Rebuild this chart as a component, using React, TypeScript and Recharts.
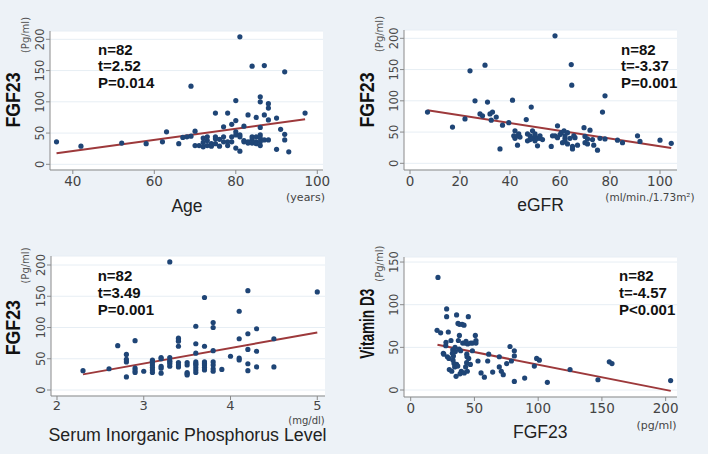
import React from "react";
import { CartesianGrid, ReferenceLine, Scatter, ScatterChart, XAxis, YAxis } from "recharts";

// FGF23 (pg/ml) against age (years)
const agePoints = [
  [36, 36], [42, 29], [52, 34], [58, 33], [62, 36], [63, 52], [66, 33], [67, 43], [68, 44],
  [69, 125], [69, 45], [70, 53], [70, 30], [71, 30], [72, 42], [72, 35], [72, 28],
  [73, 44], [73, 38], [73, 30], [74, 29], [74, 33], [75, 82], [75, 44], [75, 41], [75, 33],
  [76, 29], [76, 40], [77, 60], [77, 44], [77, 36], [78, 82], [78, 36], [78, 30],
  [79, 64], [79, 44], [79, 36], [80, 102], [80, 70], [80, 52], [80, 47], [80, 26],
  [81, 204], [81, 47], [81, 44], [81, 21], [82, 61], [82, 36], [82, 38], [83, 79], [83, 36], [83, 34],
  [84, 157], [84, 44], [84, 40], [84, 34], [85, 75], [85, 44], [85, 36], [85, 33],
  [86, 108], [86, 100], [86, 59], [86, 47], [86, 42], [86, 36], [86, 30], [87, 158], [87, 79], [87, 39],
  [88, 97], [88, 90], [88, 71], [88, 39], [90, 74], [90, 24], [91, 56], [92, 148], [92, 48], [92, 39],
  [93, 20], [97, 82]
];
const ageFit = [[36, 17.6], [97, 72]];

// FGF23 against eGFR
const egfrPoints = [
  [7, 82], [17, 58], [22, 71], [24, 148], [26, 100], [28, 79], [29, 76], [30, 157], [31, 98], [32, 79],
  [33, 82], [32.5, 69], [34.5, 74], [36, 23], [37, 61], [39.5, 65], [41, 101], [42, 52], [41.5, 44], [42, 40],
  [43, 44], [43, 29], [43.5, 47], [44, 42], [46.5, 70], [47, 47], [47, 36], [48, 44], [48, 38], [48.5, 90],
  [49, 52], [49, 40], [50, 47], [50, 44], [50, 36], [51, 40], [51, 28], [52, 40], [52, 44], [53, 38],
  [56.5, 27], [57, 44], [58, 204], [58, 44], [59, 41], [59, 60], [60, 46], [60.5, 49], [61, 33], [61.6, 52],
  [62, 44], [62, 40], [62, 36], [63, 49], [63, 31], [64, 40], [64.5, 158], [64.7, 125], [65, 27], [65, 23],
  [65.5, 44], [66, 41], [67, 29], [69.6, 57], [70, 33], [70, 43], [71, 39], [71, 31], [72, 53], [73, 38],
  [73.5, 29], [75, 21], [76, 40], [77, 82], [78, 39], [78, 108], [83, 37], [85, 33], [91, 44], [92, 35],
  [100, 37], [104.5, 32]
];
const egfrFit = [[7, 85], [104.5, 24.5]];

// FGF23 against serum inorganic phosphorus (mg/dl)
const phosPoints = [
  [2.3, 31], [2.6, 34], [2.7, 71], [2.8, 57], [2.8, 49], [2.8, 45], [2.8, 21], [2.9, 79], [2.9, 35], [2.9, 31],
  [2.9, 28], [3.0, 30], [3.1, 48], [3.1, 46], [3.1, 44], [3.1, 40], [3.1, 36], [3.1, 32], [3.1, 28],
  [3.2, 52], [3.2, 50], [3.2, 38], [3.2, 35], [3.2, 27], [3.3, 205], [3.3, 52], [3.3, 47], [3.3, 45], [3.3, 42],
  [3.3, 38], [3.4, 83], [3.4, 80], [3.4, 78], [3.4, 70], [3.4, 44], [3.4, 40], [3.4, 37], [3.5, 44], [3.5, 40],
  [3.5, 28], [3.5, 26], [3.5, 24], [3.6, 102], [3.6, 74], [3.6, 59], [3.6, 45], [3.6, 42], [3.6, 40], [3.6, 36],
  [3.6, 32], [3.6, 28], [3.7, 148], [3.7, 70], [3.7, 45], [3.7, 42], [3.7, 40], [3.7, 36], [3.7, 32],
  [3.8, 108], [3.8, 100], [3.8, 63], [3.8, 45], [3.8, 40], [3.8, 34], [3.8, 30], [3.9, 33], [4.0, 54],
  [4.1, 126], [4.1, 82], [4.1, 51], [4.1, 48], [4.2, 159], [4.2, 90], [4.2, 65], [4.2, 42], [4.2, 31],
  [4.3, 98], [4.3, 62], [4.3, 37], [4.5, 82], [4.5, 37], [5.0, 157]
];
const phosFit = [[2.3, 25], [5.0, 92]];

// Vitamin D3 against FGF23 (pg/ml)
const vitdPoints = [
  [20.7, 70], [21.4, 132], [23.5, 67], [25.6, 43], [26, 42], [27.5, 52], [27.7, 56], [28.2, 86], [28.2, 95],
  [28.8, 39], [29.5, 68], [30, 37], [30.3, 24], [31.6, 58], [32.2, 22], [32.7, 43], [33, 47], [33.2, 35],
  [33.5, 40], [34, 31], [34.5, 27], [34.8, 50], [35, 45], [35.6, 16], [36, 88], [36, 30], [36.9, 28],
  [37.1, 78], [37.4, 58], [38, 48], [38.2, 77], [38.2, 64], [38.7, 19], [39.2, 46], [39.7, 22], [40.3, 77],
  [40.8, 55], [41.8, 76], [42, 20], [42.6, 55], [43.1, 27], [43.4, 57], [43.9, 32], [44, 42], [44.2, 39],
  [44.4, 22], [44.7, 54], [45.2, 86], [45.5, 37], [46.8, 30], [47.1, 55], [48.4, 46], [48.6, 55], [50.7, 64],
  [51.2, 58], [51.2, 55], [52.8, 34], [55.2, 20], [57.8, 15], [60.4, 34], [61.2, 42], [64.3, 21], [69.5, 39],
  [69.5, 27], [71.1, 22], [72.6, 18], [75.3, 31], [77.9, 51], [79, 34], [81.3, 46], [81.3, 40], [81.3, 10],
  [89.4, 14], [97, 28], [98.8, 37], [100.9, 35], [107.2, 9], [125, 24], [146.9, 12], [155.8, 33], [157.9, 31],
  [203.9, 11]
];
const vitdFit = [[21, 53], [204, -1]];

const fgfTicks = [0, 50, 100, 150, 200];
const vitdTicks = [0, 50, 100, 150];
const ageTicks = [40, 60, 80, 100];
const egfrTicks = [0, 20, 40, 60, 80, 100];
const phosTicks = [2, 3, 4, 5];
const fgfXTicks = [0, 50, 100, 150, 200];

const NAVY = "#1f4576";
const MAROON = "#9d393b";
const TICK_FONT = "'DejaVu Sans', sans-serif";
const SANS = "'Liberation Sans', Arial, sans-serif";

const Dot = (p: any) => <circle cx={p.cx} cy={p.cy} r={2.6} fill={NAVY} />;

const YTick = ({ x, y, payload }: any) => (
  <text
    x={x}
    y={y}
    transform={`rotate(-90 ${x} ${y})`}
    textAnchor="middle"
    fontSize={11.5}
    fontFamily={TICK_FONT}
    fill="#4a4a4a"
  >
    {payload.value}
  </text>
);

type PanelProps = {
  left: number;
  top: number;
  margin: { top: number; right: number; bottom: number; left: number };
  xDomain: [number, number];
  yDomain: [number, number];
  xTicks: number[];
  yTicks: number[];
  points: number[][];
  fit: number[][];
  xFont?: number;
  xGap?: number;
};

function Panel({ left, top, margin, xDomain, yDomain, xTicks, yTicks, points, fit, xFont = 13.5, xGap = 2 }: PanelProps) {
  const data = points.map(([x, y]) => ({ x, y }));
  return (
    <div style={{ position: "absolute", left, top }}>
      <ScatterChart width={354} height={227} margin={margin}>
        <CartesianGrid vertical={false} stroke="#e7eef4" fill="#ffffff" />
        <XAxis
          type="number"
          dataKey="x"
          domain={xDomain}
          ticks={xTicks}
          allowDataOverflow
          interval={0}
          height={10}
          tickSize={4}
          tickMargin={xGap}
          stroke="#8a8a8a"
          tick={{ fontSize: xFont, fill: "#444", fontFamily: TICK_FONT }}
        />
        <YAxis
          type="number"
          dataKey="y"
          domain={yDomain}
          ticks={yTicks}
          allowDataOverflow
          interval={0}
          width={10}
          tickSize={4}
          tickMargin={2}
          stroke="#8a8a8a"
          tick={<YTick />}
        />
        <Scatter data={data} fill={NAVY} shape={Dot} isAnimationActive={false} />
        <ReferenceLine
          segment={[{ x: fit[0][0], y: fit[0][1] }, { x: fit[1][0], y: fit[1][1] }]}
          stroke={MAROON}
          strokeWidth={2}
        />
      </ScatterChart>
    </div>
  );
}

const Rot = ({ x, y, size, bold, len, children, fill = "#111", family = SANS }: any) => (
  <text
    transform={`translate(${x} ${y}) rotate(-90)`}
    textAnchor="middle"
    dominantBaseline="central"
    fontSize={size}
    fontWeight={bold ? "bold" : "normal"}
    fontFamily={family}
    fill={fill}
    textLength={len}
    lengthAdjust={len ? "spacingAndGlyphs" : undefined}
  >
    {children}
  </text>
);

const Stats = ({ x, y, lines }: { x: number; y: number; lines: string[] }) => (
  <g>
    {lines.map((s, i) => (
      <text key={s} x={x} y={y + i * 16.8} fontSize={15} fontWeight="bold" fontFamily={SANS} fill="#111">
        {s}
      </text>
    ))}
  </g>
);

export default function App() {
  return (
    <div style={{ position: "absolute", left: 0, top: 0, width: 708, height: 454, background: "#edf2f7", overflow: "hidden" }}>
      <Panel left={0} top={0} margin={{ top: 31, right: 31, bottom: 47, left: 40 }}
        xDomain={[34.4, 101.4]} yDomain={[-9.1, 213.3]} xTicks={ageTicks} yTicks={fgfTicks}
        points={agePoints} fit={ageFit} />
      <Panel left={354} top={0} margin={{ top: 30, right: 31, bottom: 47, left: 40 }}
        xDomain={[-2.4, 106.8]} yDomain={[-10.7, 213.3]} xTicks={egfrTicks} yTicks={fgfTicks}
        points={egfrPoints} fit={egfrFit} />
      <Panel left={0} top={227} margin={{ top: 29, right: 29, bottom: 48, left: 41 }}
        xDomain={[1.931, 5.089]} yDomain={[-9.6, 214.4]} xTicks={phosTicks} yTicks={fgfTicks}
        points={phosPoints} fit={phosFit} xFont={13} xGap={1} />
      <Panel left={354} top={227} margin={{ top: 30, right: 31, bottom: 47, left: 40 }}
        xDomain={[-5.25, 208.9]} yDomain={[-8.2, 155.9]} xTicks={fgfXTicks} yTicks={vitdTicks}
        points={vitdPoints} fit={vitdFit} />

      <svg width={708} height={454} style={{ position: "absolute", left: 0, top: 0, pointerEvents: "none" }}>
        {/* top left */}
        <Rot x={13} y={100} size={20} bold len={55}>FGF23</Rot>
        <Rot x={25} y={35} size={10} fill="#555" family={TICK_FONT}>(Pg/ml)</Rot>
        <Stats x={98} y={54.5} lines={["n=82", "t=2.52", "P=0.014"]} />
        <text x={187} y={211.5} textAnchor="middle" fontSize={17.5} fontFamily={SANS} fill="#222">Age</text>
        <text x={305.5} y={201} textAnchor="middle" fontSize={11} fontFamily={TICK_FONT} fill="#444">(years)</text>

        {/* top right */}
        <Rot x={367} y={100} size={20} bold len={55}>FGF23</Rot>
        <Rot x={379} y={34} size={10} fill="#555" family={TICK_FONT}>(Pg/ml)</Rot>
        <Stats x={621} y={54.5} lines={["n=82", "t=-3.37", "P=0.001"]} />
        <text x={540.5} y={210.7} textAnchor="middle" fontSize={17.5} fontFamily={SANS} fill="#222">eGFR</text>
        <text x={650} y={201} textAnchor="middle" fontSize={10.5} fontFamily={TICK_FONT} fill="#444">(ml/min./1.73m²)</text>

        {/* bottom left */}
        <Rot x={13} y={327.7} size={20} bold len={55}>FGF23</Rot>
        <Rot x={25} y={265.5} size={10} fill="#555" family={TICK_FONT}>(Pg/ml)</Rot>
        <Stats x={97.7} y={281.3} lines={["n=82", "t=3.49", "P=0.001"]} />
        <text x={306.5} y={424} textAnchor="middle" fontSize={10} fontFamily={TICK_FONT} fill="#444">(mg/dl)</text>
        <text x={187.5} y={440.5} textAnchor="middle" fontSize={17.5} fontFamily={SANS} fill="#222" textLength={278} lengthAdjust="spacingAndGlyphs">Serum Inorganic Phosphorus Level</text>

        {/* bottom right */}
        <Rot x={367.3} y={323.7} size={20} bold len={70}>Vitamin D3</Rot>
        <Rot x={379} y={263.7} size={10} fill="#555" family={TICK_FONT}>(Pg/ml)</Rot>
        <Stats x={619} y={281.3} lines={["n=82", "t=-4.57", "P<0.001"]} />
        <text x={540.3} y={437.7} textAnchor="middle" fontSize={17.5} fontFamily={SANS} fill="#222">FGF23</text>
        <text x={656.5} y={428.7} textAnchor="middle" fontSize={11} fontFamily={TICK_FONT} fill="#444">(pg/ml)</text>
      </svg>
    </div>
  );
}
